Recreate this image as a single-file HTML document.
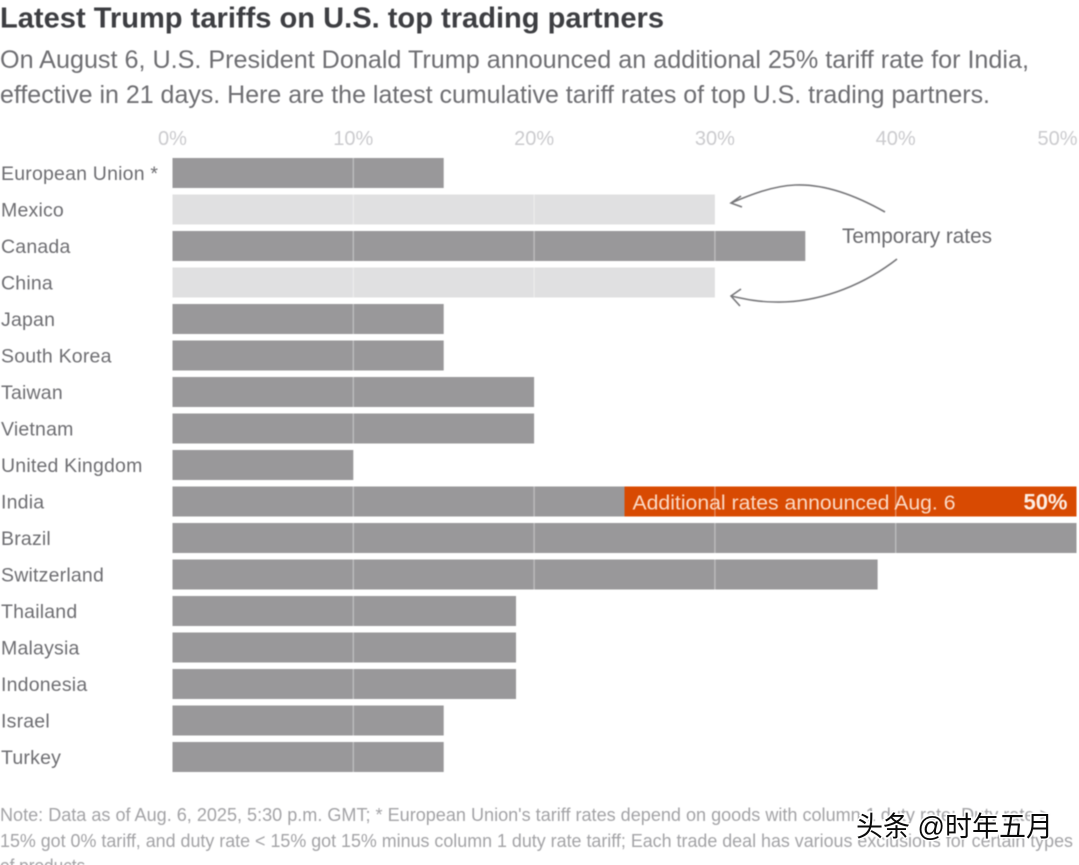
<!DOCTYPE html>
<html>
<head>
<meta charset="utf-8">
<title>Latest Trump tariffs on U.S. top trading partners</title>
<style>
html,body{margin:0;padding:0;background:#fff;width:1079px;height:865px;overflow:hidden}
svg{display:block;font-family:"Liberation Sans",sans-serif}
.soft{filter:blur(.5px)}
</style>
</head>
<body>
<svg id="chart" width="1079" height="865" viewBox="0 0 1079 865" xmlns="http://www.w3.org/2000/svg">
  <g class="soft">
    <text x="0" y="27.5" font-size="28.5" font-weight="700" fill="#3d3e42" textLength="664" lengthAdjust="spacingAndGlyphs">Latest Trump tariffs on U.S. top trading partners</text>
    <text x="0" y="68" font-size="25" fill="#6e6e72" textLength="1029" lengthAdjust="spacingAndGlyphs">On August 6, U.S. President Donald Trump announced an additional 25% tariff rate for India,</text>
    <text x="0" y="103" font-size="25" fill="#6e6e72" textLength="990" lengthAdjust="spacingAndGlyphs">effective in 21 days. Here are the latest cumulative tariff rates of top U.S. trading partners.</text>
  </g>
  <g id="plot" class="soft"></g>
  <g class="soft">
    <text x="842" y="243" font-size="21" fill="#6b6b6f" textLength="150" lengthAdjust="spacingAndGlyphs">Temporary rates</text>
    <path d="M885 212 C848 191 818 184 795 185 C772 186 750 195 731 203 M741 196 L731 203 L742 207" fill="none" stroke="#77777a" stroke-width="1.6"/>
    <path d="M897 259 C860 288 815 303 775 302 C758 302 745 299 731 296 M741 289 L731 296 L740 306" fill="none" stroke="#77777a" stroke-width="1.6"/>
  </g>
  <g class="soft" fill="#a3a3a6" font-size="18">
    <text x="0" y="821" textLength="1050" lengthAdjust="spacingAndGlyphs">Note: Data as of Aug. 6, 2025, 5:30 p.m. GMT; * European Union's tariff rates depend on goods with column 1 duty rate: Duty rate &gt;</text>
    <text x="0" y="847" textLength="1073" lengthAdjust="spacingAndGlyphs">15% got 0% tariff, and duty rate &lt; 15% got 15% minus column 1 duty rate tariff; Each trade deal has various exclusions for certain types</text>
    <text x="0" y="872" textLength="90" lengthAdjust="spacingAndGlyphs">of products.</text>
  </g>
  <text x="856" y="836" font-size="28" fill="#0a0a0a" stroke="#fff" stroke-width="3" paint-order="stroke" font-family="'Liberation Sans','Noto Sans CJK SC',sans-serif" textLength="197" lengthAdjust="spacingAndGlyphs">头条 @时年五月</text>
</svg>
<script>
var categories = ["European Union *","Mexico","Canada","China","Japan","South Korea","Taiwan","Vietnam","United Kingdom","India","Brazil","Switzerland","Thailand","Malaysia","Indonesia","Israel","Turkey"];
var tariffRates = [15,30,35,30,15,15,20,20,10,50,50,39,19,19,19,15,15];
var temporaryFlags = [0,1,0,1,0,0,0,0,0,0,0,0,0,0,0,0,0];
var additionalRates = [0,0,0,0,0,0,0,0,0,25,0,0,0,0,0,0,0];
var tickValues = [0,10,20,30,40,50];
var tickLabels = ["0%","10%","20%","30%","40%","50%"];

var plot = document.getElementById('plot');
var NS = 'http://www.w3.org/2000/svg';
function xScale(v){ return 172.5 + v * 18.08; }
function yScale(i){ return 158 + i * 36.5; }
var barHeight = 30;
function make(tag, attrs, text){
  var el = document.createElementNS(NS, tag);
  for (var k in attrs) el.setAttribute(k, attrs[k]);
  if (text !== undefined) el.textContent = text;
  plot.appendChild(el);
  return el;
}
function slug(s){ return s.toLowerCase().replace(/[^a-z]+/g,'-').replace(/-+$/,''); }

tickValues.forEach(function(v, i){
  var anchor = i === 5 ? 'end' : 'middle';
  var tx = i === 5 ? xScale(v) + 1 : xScale(v);
  var el = make('text', {x: tx, y: 145, 'font-size': 20, fill: '#cbcbce', 'text-anchor': anchor}, tickLabels[i]);
  
  
});

categories.forEach(function(name, i){
  var label = make('text', {x: 1, y: yScale(i) + 22, 'font-size': 19.5, fill: '#6e6e72', 'letter-spacing': 0.2}, name);
  
  

  var bar = make('rect', {
    x: xScale(0), y: yScale(i),
    width: xScale(tariffRates[i]) - xScale(0), height: barHeight,
    fill: temporaryFlags[i] ? '#e0e0e1' : '#99989a'
  });
  
  

  if (additionalRates[i] > 0) {
    var base = tariffRates[i] - additionalRates[i];
    var extra = make('rect', {
      x: xScale(base), y: yScale(i),
      width: xScale(tariffRates[i]) - xScale(base), height: barHeight,
      fill: '#d84a02'
    });
    
    
  }
});

tickValues.forEach(function(v){
  if (v === 0 || v === 50) return;
  categories.forEach(function(name, i){
    if (tariffRates[i] <= v) return;
    var line = make('line', {
      x1: xScale(v), x2: xScale(v),
      y1: yScale(i), y2: yScale(i) + barHeight,
      stroke: '#fff', 'stroke-opacity': 0.35, 'stroke-width': 1.4
    });
    
    
  });
});

categories.forEach(function(name, i){
  if (additionalRates[i] <= 0) return;
  var base = tariffRates[i] - additionalRates[i];
  var note = make('text', {x: xScale(base) + 8, y: yScale(i) + 23, 'font-size': 20.5, fill: '#fbd9c4', textLength: 323, lengthAdjust: 'spacingAndGlyphs'}, 'Additional rates announced Aug. 6');
  
  
  var value = make('text', {x: xScale(tariffRates[i]) - 9, y: yScale(i) + 23, 'font-size': 22, 'font-weight': 700, fill: '#fdeee4', 'text-anchor': 'end'}, tariffRates[i] + '%');
  
  
});
</script>
</body>
</html>
